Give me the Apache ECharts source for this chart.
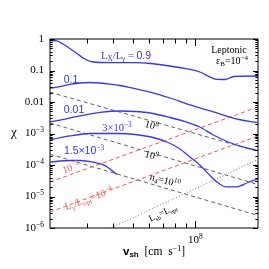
<!DOCTYPE html>
<html><head><meta charset="utf-8">
<script src="https://cdn.jsdelivr.net/npm/echarts@6/dist/echarts.min.js"></script>
<style>html,body{margin:0;padding:0;background:#fff}#c{width:269px;height:269px}</style>
</head><body><div id="c"></div>
<script>
// ---------- data (v_sh in cm/s, chi) ----------
const v09   = [2.0e7,2.16e7,2.31e7,2.49e7,2.70e7,2.91e7,3.22e7,3.88e7,5.07e7,6.12e7,7.55e7,9.42e7,1.05e8,1.22e8,1.39e8,1.53e8,2.0e8];
const chi09 = [0.896,0.865,0.694,0.499,0.346,0.240,0.186,0.179,0.179,0.167,0.139,0.108,0.0896,0.0557,0.0518,0.0645,0.0669];

const v01   = [2.0e7,2.23e7,2.49e7,2.79e7,3.11e7,3.48e7,3.88e7,4.34e7,4.85e7,6.05e7,7.55e7,9.42e7,1.22e8,1.55e8,2.0e8];
const chi01 = [0.0269,0.0310,0.0360,0.0401,0.0416,0.0401,0.0372,0.0334,0.0288,0.0207,0.0134,0.00804,0.00482,0.00299,0.00220];

const v001   = [2.0e7,2.36e7,2.79e7,3.48e7,4.34e7,5.13e7,6.05e7,7.55e7,8.91e7,1.05e8,1.22e8,1.44e8,1.64e8,2.0e8];
const chi001 = [2.32e-3,2.88e-3,3.60e-3,4.65e-3,5.18e-3,4.99e-3,4.48e-3,3.22e-3,2.40e-3,1.61e-3,8.95e-4,5.37e-4,4.01e-4,2.88e-4];

const v3e3   = [2.0e7,2.49e7,3.11e7,4.25e7,5.13e7,6.12e7,7.30e7,8.43e7,9.42e7,1.05e8,1.22e8,1.31e8,1.40e8,1.58e8,1.79e8,2.0e8];
const chi3e3 = [6.22e-4,8.34e-4,1.0e-3,1.0e-3,9.29e-4,7.74e-4,5.37e-4,3.22e-4,1.79e-4,1.0e-4,3.60e-5,2.49e-5,2.03e-5,2.03e-5,2.78e-5,3.60e-5];

const v15e3   = [2.0e7,2.23e7,2.49e7,2.79e7,3.22e7,3.56e7,3.80e7,4.02e7,4.20e7];
const chi15e3 = [1.24e-4,1.34e-4,1.39e-4,1.39e-4,1.24e-4,1.04e-4,8.34e-5,6.22e-5,4.99e-5];

const vN     = [2e7, 2e8];
const chiN8  = [0.0205, 2.7e-4];
const chiN9  = [2.15e-3, 2.4e-5];
const chiN10 = [2.2e-4, 2.5e-6];

const vRed     = [2e7, 2e8];
const chiRedA  = [2.88e-5, 6.94e-3];
const chiRedB  = [3.22e-6, 8.34e-4];

const vDot   = [3.93e7, 2e8];
const chiDot = [1e-6, 1.5e-4];

// axis ticks
const yMajorTicks = [1e-6,1e-5,1e-4,1e-3,1e-2,1e-1,1];
const yDecades = [1e-6,1e-5,1e-4,1e-3,1e-2,1e-1];
const yMultipliers = [2,3,4,5,6,7,8,9];
const xMinorTicks = [3e7,4e7,5e7,6e7,7e7,8e7,9e7];
const xMajorTicks = [1e8];

// ---------- chart ----------
const X_MIN = 2e7, X_MAX = 2e8, Y_MIN = 1e-6, Y_MAX = 1;
const BLUE = '#3535ff', RED = '#ff5050', GRAY = '#505050';
const SERIF = '"Liberation Serif","DejaVu Serif",serif';
const SANS = '"Liberation Sans","DejaVu Sans",sans-serif';

function pairs(xs, ys) { return xs.map((x, i) => [x, ys[i]]); }
function blue(xs, ys) {
  return {type:'line', data:pairs(xs, ys), showSymbol:false, smooth:0.3, silent:true, z:4,
    lineStyle:{color:BLUE, width:1.3}, animation:false};
}
function dashed(xs, ys, color, width, dash) {
  return {type:'line', data:pairs(xs, ys), showSymbol:false, silent:true, z:3,
    lineStyle:{color:color, width:width, type:dash}, animation:false};
}

const tickData = [];
yMajorTicks.forEach(v => tickData.push([X_MIN, v, 1]));
yDecades.forEach(d => yMultipliers.forEach(m => tickData.push([X_MIN, d * m, 0])));
xMinorTicks.forEach(v => tickData.push([v, Y_MIN, 2]));
xMajorTicks.forEach(v => tickData.push([v, Y_MIN, 3]));

function supLabel(e) {
  return '{b|10}{s|\u2212' + e + '}';
}
const tickRich = {
  b:{fontFamily:SERIF, fontSize:11, color:'#000', lineHeight:14},
  s:{fontFamily:SERIF, fontSize:7.5, color:'#000', lineHeight:7.5, verticalAlign:'top'}
};

const option = {
  animation:false,
  backgroundColor:'#fff',
  grid:{left:50, top:39, width:208, height:189, show:true, borderColor:'#000', borderWidth:1, backgroundColor:'transparent'},
  xAxis:{type:'log', logBase:10, min:X_MIN, max:X_MAX,
    axisLine:{show:false}, axisTick:{show:false}, splitLine:{show:false}, minorTick:{show:false},
    axisLabel:{margin:5, showMinLabel:false, showMaxLabel:false, rich:tickRich,
      formatter:function(v){ const e = Math.log10(v); if (Math.abs(e - Math.round(e)) > 1e-6) return ''; if (v <= X_MIN*1.0001 || v >= X_MAX*0.9999) return ''; return '{b|10}{s|' + Math.round(e) + '}'; }}},
  yAxis:{type:'log', logBase:10, min:Y_MIN, max:Y_MAX, splitNumber:6,
    axisLine:{show:false}, axisTick:{show:false}, splitLine:{show:false}, minorTick:{show:false},
    axisLabel:{margin:6, rich:tickRich,
      formatter:function(v){ const e = Math.round(Math.log10(v)); if (e === 0) return '{b|1}'; if (e === -1) return '{b|0.1}'; if (e === -2) return '{b|0.01}'; return supLabel(-e); }}},
  series:[
    blue(v09, chi09), blue(v01, chi01), blue(v001, chi001), blue(v3e3, chi3e3), blue(v15e3, chi15e3),
    dashed(vN, chiN8, GRAY, 0.9, [4,3]), dashed(vN, chiN9, GRAY, 0.9, [4,3]), dashed(vN, chiN10, GRAY, 0.9, [4,3]),
    dashed(vRed, chiRedA, RED, 1, [4,3]), dashed(vRed, chiRedB, RED, 1, [4,3]),
    dashed(vDot, chiDot, '#777', 1, [1,2]),
    {type:'custom', data:tickData, clip:false, silent:true, z:10, encode:{x:0, y:1},
      renderItem:function(params, api){
        const a = api.value(0), b = api.value(1), kind = api.value(2);
        const st = {stroke:'#000', lineWidth:1};
        const ch = [];
        if (kind < 2) {
          const L = kind === 1 ? 5 : 2.7;
          const p1 = api.coord([X_MIN, b]), p2 = api.coord([X_MAX, b]);
          const y = Math.round(p1[1]) + 0.5;
          ch.push({type:'line', shape:{x1:p1[0], y1:y, x2:p1[0] + L, y2:y}, style:st});
          ch.push({type:'line', shape:{x1:p2[0], y1:y, x2:p2[0] - L, y2:y}, style:st});
        } else {
          const L = kind === 3 ? 7 : 4.5;
          const p1 = api.coord([a, Y_MIN]), p2 = api.coord([a, Y_MAX]);
          const x = Math.round(p1[0]) + 0.5;
          ch.push({type:'line', shape:{x1:x, y1:p1[1], x2:x, y2:p1[1] - L}, style:st});
          ch.push({type:'line', shape:{x1:x, y1:p2[1], x2:x, y2:p2[1] + L}, style:st});
        }
        return {type:'group', children:ch};
      }}
  ]
};

function T(x, y, text, rich, opts) {
  opts = opts || {};
  return {type:'text', x:x, y:y, rotation:(opts.rot || 0) * Math.PI / 180, z:20, silent:true,
    style:{text:text, rich:rich, align:opts.align || 'center', textAlign:opts.align || 'center',
      verticalAlign:'middle', textVerticalAlign:'middle', fill:opts.fill || '#000',
      fontFamily:SERIF, fontSize:opts.size || 10}};
}
function rs(color, size, fam) {
  const f = fam || SERIF;
  return {
    n:{fontFamily:f, fontSize:size, fill:color, color:color, lineHeight:size + 3},
    sp:{fontFamily:f, fontSize:size * 0.7, fill:color, color:color, lineHeight:size * 0.7, verticalAlign:'top'},
    sb:{fontFamily:f, fontSize:size * 0.7, fill:color, color:color, lineHeight:size * 0.7, verticalAlign:'bottom'},
    ss:{fontFamily:SANS, fontSize:size, fill:color, color:color, lineHeight:size + 3},
    bb:{fontFamily:SANS, fontWeight:'bold', fontSize:size, fill:color, color:color, lineHeight:size + 3},
    bs:{fontFamily:SANS, fontWeight:'bold', fontSize:size * 0.7, fill:color, color:color, lineHeight:size * 0.7, verticalAlign:'bottom'}
  };
}
const rb = rs(BLUE, 10.5), rr = rs(RED, 10), rk = rs('#000', 10), rk9 = rs('#000', 9);

option.graphic = [
  T(101, 56, '{n|L}{sb|X}{n|/L}{sb|\u03b3}{n| = }{ss|0.9}', rb, {align:'left', fill:BLUE}),
  T(71, 80, '{ss|0.1}', rb, {fill:BLUE}),
  T(74, 110.5, '{ss|0.01}', rb, {fill:BLUE}),
  T(117, 128, '{n|3\u00d710}{sp|\u22123}', rb, {fill:BLUE}),
  T(84, 151, '{ss|1.5\u00d710}{sp|\u22123}', rb, {fill:BLUE}),
  T(71, 168, '{n|10}{sp|\u22125}', rr, {rot:20, fill:RED}),
  T(89, 199, '{n|L}{sb|\u03b3}{n|/L}{sb|opt}{n|=10}{sp|\u22124}', rr, {rot:20, fill:RED}),
  T(151.5, 126, '{n|10}{sp|8}', rk, {rot:-15}),
  T(151.5, 156, '{n|10}{sp|9}', rk, {rot:-15}),
  T(165, 181, '{n|n}{sb|4}{n|=10}{sp|10}', rk, {rot:-15}),
  T(163, 213, '{n|L}{sb|sh}{n|=L}{sb|opt}', rk9, {rot:25}),
  T(229, 50, '{n|Leptonic}', rk),
  T(232, 61, '{n|\u03b5}{sb|B}{n|=10}{sp|\u22124}', rk),
  T(14, 133, '{n|\u03c7}', rs('#000', 13)),
  T(154, 252, '{bb|v}{bs|sh}{n|  [cm  s}{sp|\u22121}{n|]}', rs('#000', 11.5))
];

const chart = echarts.init(document.getElementById('c'), null, {renderer:'canvas'});
chart.setOption(option);
</script></body></html>
